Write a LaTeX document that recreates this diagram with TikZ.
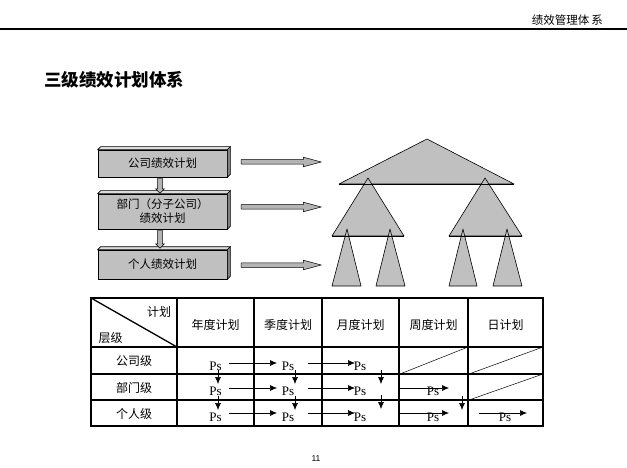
\documentclass[tikz,border=0pt]{standalone}
\usepackage{fontspec}
\setmainfont{Liberation Serif}
\newfontfamily\cjk{Noto Sans CJK SC}
\newfontfamily\arialfont{Liberation Sans}
\usetikzlibrary{arrows.meta,shapes.arrows}

\definecolor{boxgray}{HTML}{C0C0C0}
\definecolor{topgray}{HTML}{DCDCDC}
\definecolor{sidegray}{HTML}{808080}
\definecolor{arrowgray}{HTML}{B4B4B4}

\tikzset{
  planbox/.style={draw, fill=boxgray, line width=0.6pt, inner sep=0pt, align=center,
    minimum width=129pt, font=\cjk\fontsize{11.5}{14}\selectfont},
  blockarrow/.style={single arrow, draw, fill=arrowgray, line width=0.5pt, inner sep=2pt,
    single arrow head extend=2.5pt, single arrow tip angle=30, minimum height=80pt},
  downarrow/.style={single arrow, draw, fill=arrowgray, line width=0.5pt, inner sep=2.2pt,
    single arrow head extend=2pt, shape border rotate=270},
  tri/.style={draw, fill=boxgray, line width=0.6pt, line join=round},
  tabline/.style={line width=1.3pt},
  cell/.style={font=\cjk\fontsize{12}{14}\selectfont, inner sep=0pt},
  ps/.style={font=\fontsize{13}{15}\selectfont, inner sep=0pt},
  psarrow/.style={-{Latex[length=7pt,width=6pt]}, line width=0.6pt},
}

\begin{document}
\begin{tikzpicture}[x=1pt,y=-1pt]
  \useasboundingbox (0,0) rectangle (627,468);

  % page header
  \coordinate (HL) at (0,29);
  \coordinate (HR) at (627,29);
  \draw[line width=1.1pt] (HL) -- (HR);
  \node[font=\cjk\fontsize{11.5}{13}\selectfont, anchor=east, inner sep=0pt] (hdr) at (603,20) {绩效管理体\,系};
  \node[font=\cjk\bfseries\fontsize{17.5}{20}\selectfont, anchor=west, inner sep=0pt] (title) at (44,80) {三级绩效计划体系};

  % plan boxes
  \node[planbox, minimum height=27pt] (gs) at (162.5,163.5) {公司绩效计划};
  \node[planbox, minimum height=35pt] (bm) at (162.5,211.5) {部门（分子公司）\\绩效计划};
  \node[planbox, minimum height=29pt] (gr) at (162.5,264.5) {个人绩效计划};
  \draw[fill=topgray, line width=0.6pt] (gs.north west) -- ++(3,-3) -- ([shift={(3,-3)}]gs.north east) -- (gs.north east) -- cycle;
  \draw[fill=sidegray, line width=0.6pt] (gs.north east) -- ++(3,-3) -- ([shift={(3,-3)}]gs.south east) -- (gs.south east) -- cycle;
  \draw[fill=topgray, line width=0.6pt] (bm.north west) -- ++(3,-3) -- ([shift={(3,-3)}]bm.north east) -- (bm.north east) -- cycle;
  \draw[fill=sidegray, line width=0.6pt] (bm.north east) -- ++(3,-3) -- ([shift={(3,-3)}]bm.south east) -- (bm.south east) -- cycle;
  \draw[fill=topgray, line width=0.6pt] (gr.north west) -- ++(3,-3) -- ([shift={(3,-3)}]gr.north east) -- (gr.north east) -- cycle;
  \draw[fill=sidegray, line width=0.6pt] (gr.north east) -- ++(3,-3) -- ([shift={(3,-3)}]gr.south east) -- (gr.south east) -- cycle;

  % arrows between and beside the boxes
  \node[downarrow, minimum height=15pt] (d1) at (160,184.5) {};
  \node[downarrow, minimum height=18pt] (d2) at (160,238) {};
  \node[blockarrow] (r1) at (277,162) {};
  \node[blockarrow] (r2) at (277,207) {};
  \node[blockarrow] (r3) at (277,265) {};

  % tree of triangles
  \coordinate (T0) at (427,139);
  \coordinate (T0L) at (339,184);
  \coordinate (T0R) at (514,184);
  \coordinate (T1) at (368,178);
  \coordinate (T1L) at (332,236);
  \coordinate (T1R) at (404,236);
  \coordinate (T2) at (485,178);
  \coordinate (T2L) at (449,236);
  \coordinate (T2R) at (522,236);
  \coordinate (S1) at (347,229);
  \coordinate (S1L) at (332,286);
  \coordinate (S1R) at (361,286);
  \coordinate (S2) at (390,229);
  \coordinate (S2L) at (376,286);
  \coordinate (S2R) at (405,286);
  \coordinate (S3) at (463,229);
  \coordinate (S3L) at (449,286);
  \coordinate (S3R) at (477,286);
  \coordinate (S4) at (507,229);
  \coordinate (S4L) at (493,286);
  \coordinate (S4R) at (522,286);

  \draw[tri] (T0) -- (T0L) -- (T0R) -- cycle;
  \draw[tri] (T1) -- (T1L) -- (T1R) -- cycle;
  \draw[tri] (T2) -- (T2L) -- (T2R) -- cycle;
  \draw[line width=0.8pt] (T0L) -- (T0R);
  \draw[tri] (S1) -- (S1L) -- (S1R) -- cycle;
  \draw[tri] (S2) -- (S2L) -- (S2R) -- cycle;
  \draw[tri] (S3) -- (S3L) -- (S3R) -- cycle;
  \draw[tri] (S4) -- (S4L) -- (S4R) -- cycle;
  \draw[line width=0.8pt] (T1L) -- (T1R);
  \draw[line width=0.8pt] (T2L) -- (T2R);

  % table grid
  \coordinate (TL) at (91,298);
  \coordinate (BR) at (543,426);
  \coordinate (H1) at (177,347);
  \draw[tabline] (TL) rectangle (BR);
  \draw[tabline] (TL) -- (H1);
  \draw[tabline] (91,347) -- (543,347);
  \draw[tabline] (91,374) -- (543,374);
  \draw[tabline] (91,400) -- (543,400);
  \draw[tabline] (177,298) -- (177,426);
  \draw[tabline] (254,298) -- (254,426);
  \draw[tabline] (322,298) -- (322,426);
  \draw[tabline] (399,298) -- (399,426);
  \draw[tabline] (468,298) -- (468,426);

  % empty cells
  \draw[line width=0.5pt] (400,374) -- (468,347);
  \draw[line width=0.5pt] (469,374) -- (543,347);
  \draw[line width=0.5pt] (469,400) -- (543,374);

  % table texts
  \node[cell] (jh) at (159,312) {计划};
  \node[cell] (cj) at (110.5,338) {层级};
  \node[cell] (c2) at (215.5,325) {年度计划};
  \node[cell] (c3) at (288,325) {季度计划};
  \node[cell] (c4) at (360.5,325) {月度计划};
  \node[cell] (c5) at (433.5,325) {周度计划};
  \node[cell] (c6) at (505.5,325) {日计划};
  \node[cell] (l1) at (134,361) {公司级};
  \node[cell] (l2) at (134,388) {部门级};
  \node[cell] (l3) at (134,414) {个人级};

  \node[ps] (p12) at (215.5,366) {Ps};
  \node[ps] (p13) at (288,366) {Ps};
  \node[ps] (p14) at (360,366) {Ps};
  \node[ps] (p22) at (215.5,391) {Ps};
  \node[ps] (p23) at (288,391) {Ps};
  \node[ps] (p24) at (360,391) {Ps};
  \node[ps] (p25) at (433,391) {Ps};
  \node[ps] (p32) at (215.5,417) {Ps};
  \node[ps] (p33) at (288,417) {Ps};
  \node[ps] (p34) at (360,417) {Ps};
  \node[ps] (p35) at (433,417) {Ps};
  \node[ps] (p36) at (505,417) {Ps};

  % flow between Ps
  \draw[psarrow] (229,363) -- (277,363);
  \draw[psarrow] (308,363) -- (355,363);
  \draw[psarrow] (229,388) -- (277,388);
  \draw[psarrow] (308,388) -- (355,388);
  \draw[psarrow] (400,388) -- (449,388);
  \draw[psarrow] (229,413) -- (277,413);
  \draw[psarrow] (308,413) -- (355,413);
  \draw[psarrow] (400,413) -- (449,413);
  \draw[psarrow] (479,413) -- (527,413);

  \draw[psarrow] (218,370) -- (218,384);
  \draw[psarrow] (218,396) -- (218,410);
  \draw[psarrow] (295,370) -- (295,384);
  \draw[psarrow] (295,396) -- (295,410);
  \draw[psarrow] (381,370) -- (381,384);
  \draw[psarrow] (381,395) -- (381,409);
  \draw[psarrow] (462,396) -- (462,410);

  % page number
  \node[font=\arialfont\fontsize{8.5}{10}\selectfont, inner sep=0pt] (pg) at (316,459) {11};
\end{tikzpicture}
\end{document}
